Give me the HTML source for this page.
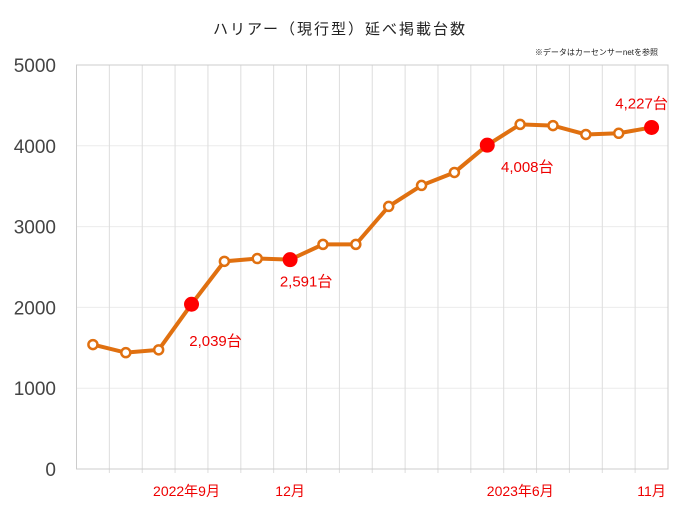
<!DOCTYPE html>
<html><head><meta charset="utf-8"><style>
body{margin:0;background:#fff;}
svg text{font-family:"Liberation Sans","Noto Sans CJK JP",sans-serif;}
</style></head><body>
<svg width="681" height="511" id="c">
<text x="340" y="34" text-anchor="middle" font-size="15" fill="#222" letter-spacing="2">ハリアー（現行型）延べ掲載台数</text>
<text x="658" y="55" text-anchor="end" font-size="8" fill="#222">※データはカーセンサーnetを参照</text>
<g id="g"></g>
</svg>
<script>
const categories=["2022-06","2022-07","2022-08","2022-09","2022-10","2022-11","2022-12","2023-01","2023-02","2023-03","2023-04","2023-05","2023-06","2023-07","2023-08","2023-09","2023-10","2023-11"];
const values=[1540,1440,1475,2039,2570,2605,2591,2780,2780,3250,3510,3670,4008,4265,4250,4140,4155,4227];
const highlighted=[3,6,12,17];
const valueLabels=["2,039台","2,591台","4,008台","4,227台"];
const xLabels=["2022年9月","12月","2023年6月","11月"];
const yTicks=[0,1000,2000,3000,4000,5000];
const labelDx=[24,16,40,-10];
const labelDy=[42,27,27,-19];
const xLabelDx=[-5,0,33,0];
const L=76.5,R=668,T=65,B=469,ymax=5000;
const bw=(R-L)/categories.length;
const X=i=>L+bw*(i+0.5);
const Y=v=>B-(v/ymax)*(B-T);
const g=document.getElementById('g');
const NS='http://www.w3.org/2000/svg';
function mk(t,a){const e=document.createElementNS(NS,t);for(const k in a)e.setAttribute(k,a[k]);g.appendChild(e);return e;}
yTicks.forEach(v=>{
 const l=mk('line',{x1:L,x2:R,y1:Y(v),y2:Y(v),stroke:'#ececec'});
 
 
 const t=mk('text',{x:56,y:Y(v)+7,'text-anchor':'end','font-size':19,fill:'#444'});
 t.textContent=v;
 
 
});
for(let i=1;i<categories.length;i++){
 const l=mk('line',{x1:L+bw*i,x2:L+bw*i,y1:T,y2:B+4,stroke:'#ddd'});
 
 
}
const fr=mk('rect',{x:L,y:T,width:R-L,height:B-T,fill:'none',stroke:'#ccc'});


const ln=mk('polyline',{points:values.map((v,i)=>X(i)+','+Y(v)).join(' '),fill:'none',stroke:'#e07010','stroke-width':4});


values.forEach((v,i)=>{
 const h=highlighted.includes(i);
 const c=h?mk('circle',{cx:X(i),cy:Y(v),r:7.5,fill:'#f00'}):mk('circle',{cx:X(i),cy:Y(v),r:4.5,fill:'#fff',stroke:'#e07010','stroke-width':2.5});
 
 
});
highlighted.forEach((idx,k)=>{
 const t=mk('text',{x:X(idx)+labelDx[k],y:Y(values[idx])+labelDy[k],'text-anchor':'middle','font-size':15,fill:'#e00'});
 t.textContent=valueLabels[k];
 
 
 const x=mk('text',{x:X(idx)+xLabelDx[k],y:496,'text-anchor':'middle','font-size':14,fill:'#e00'});
 x.textContent=xLabels[k];
 
 
});
</script>
</body></html>
